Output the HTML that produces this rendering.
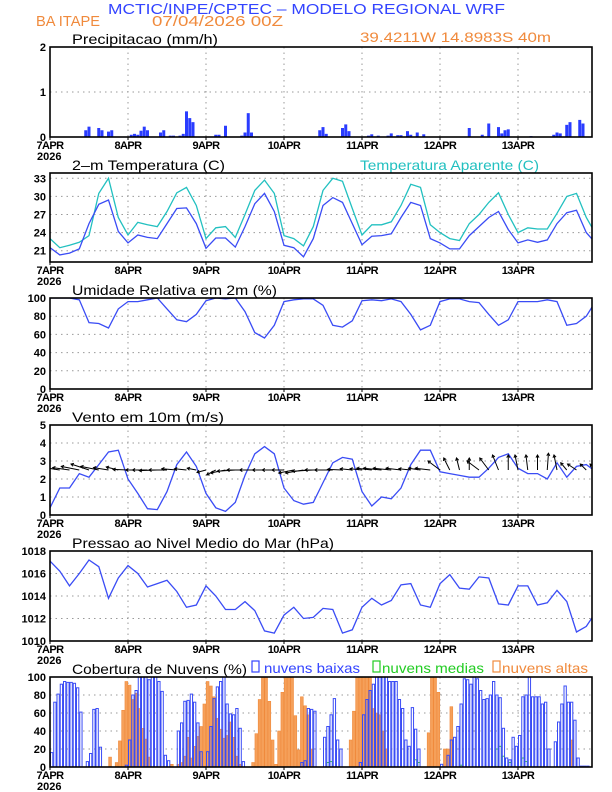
<!DOCTYPE html>
<html><head><meta charset="utf-8"><style>
body{margin:0;background:#fff}
svg{display:block}
text{font-family:"Liberation Sans",sans-serif}
.tk{font-size:11px;font-weight:bold;fill:#000}
.tt{font-size:14px;fill:#000}
</style></head><body>
<svg id="c" width="612" height="792" viewBox="0 0 612 792">
<text x="108" y="14" font-size="15" fill="#3344ff" textLength="397" lengthAdjust="spacingAndGlyphs">MCTIC/INPE/CPTEC – MODELO REGIONAL WRF</text>
<text x="36" y="26" font-size="15" fill="#f08a3c" textLength="64" lengthAdjust="spacingAndGlyphs">BA ITAPE</text>
<text x="152" y="26" font-size="15" fill="#f08a3c" textLength="131" lengthAdjust="spacingAndGlyphs">07/04/2026 00Z</text>
<text x="360" y="42" font-size="14" fill="#f08a3c" textLength="191" lengthAdjust="spacingAndGlyphs">39.4211W 14.8983S 40m</text>
<text x="360" y="170" font-size="14" fill="#22c0c0" textLength="179" lengthAdjust="spacingAndGlyphs">Temperatura Aparente (C)</text>
</svg>
<script>
const hours3 = [];for(let i=0;i<57;i++)hours3.push(i*3);
const precipHours=[11,12,15,16,18,19,25,26,27,28,29,30,34,35,37,38,40,41,42,43,44,51,52,54,59,60,61,62,83,84,85,90,91,92,98,99,101,104,105,107,108,110,111,113,115,129,133,135,138,139,140,141,148,155,156,157,159,160,163,164];
const precipVals=[0.15,0.23,0.2,0.15,0.12,0.15,0.05,0.07,0.05,0.14,0.23,0.15,0.1,0.15,0.03,0.03,0.03,0.07,0.57,0.42,0.33,0.05,0.05,0.25,0.03,0.1,0.53,0.1,0.15,0.22,0.07,0.2,0.28,0.13,0.03,0.06,0.03,0.03,0.08,0.04,0.04,0.13,0.05,0.1,0.06,0.2,0.05,0.3,0.22,0.08,0.15,0.17,0.02,0.05,0.1,0.08,0.27,0.33,0.38,0.3];
const temp=[21.5,20.3,20.6,21.3,25.5,28.7,29.4,24.2,22.3,23.6,23.2,23.0,25.5,28.0,28.1,25.5,21.4,23.1,23.1,21.6,25.0,28.8,30.5,27.5,21.9,21.5,20.0,23.0,28.5,29.8,29.0,25.5,22.0,23.4,23.5,23.8,26.5,29.0,28.5,23.0,22.3,21.3,21.3,23.5,25.0,26.5,27.5,24.5,22.3,22.8,22.4,22.8,25.5,27.3,27.7,24.0,22.2];
const apparent=[23,21.5,21.9,22.4,23.5,30.5,33,26.5,23.6,25.7,25.3,25.0,27.5,30.6,31.5,28.5,23.0,24.8,25.0,23.2,27,31,32.7,30.5,23.5,23.0,21.8,25,31,33,32.5,28,23.6,25.3,25.3,25.8,28.5,32,31.5,25.3,24,23,22.7,25.5,27.0,29,30.6,27,24,24.8,24.6,24.6,27.2,30,30.5,26.5,23.7];
const rh=[100,100,100,98,73,72,67,88,96,96,98,100,88,76,74,82,97,100,99,100,85,62,56,70,96,98,99,99,92,70,68,75,97,98,97,99,96,82,65,70,96,99,99,96,95,82,70,76,96,96,96,98,96,70,72,80,97];
const windSpd=[0.4,1.5,1.5,2.3,2.1,2.8,3.5,3.6,2.0,1.2,0.35,0.3,1.3,2.8,3.5,2.7,1.2,0.4,0.2,0.7,2.2,3.4,3.8,3.4,1.5,0.8,0.6,0.7,1.8,2.9,3.2,3.1,1.3,0.5,1.0,0.9,1.5,2.8,3.6,3.6,2.4,2.3,2.2,2.1,2.1,2.6,3.2,3.4,2.6,2.3,2.3,2.0,2.9,2.1,2.7,2.8,2.4];
const windU=[-2.5,-2.5,-2.8,-3,-3,-3,-2.5,-2,-2.5,-2,-2.5,-3,-3,-2.5,-2,-1.5,-1.5,-1.5,-2.5,-3,-3,-2.5,-2,-2,-2,-2.5,-3,-3.5,-3,-3,-2.5,-2,-2,-2.5,-3,-3,-2.5,-2,-2,-2.5,-2,-1,-0.5,0,-2,-1.5,-1,0,-0.5,-0.3,0,0.2,-0.5,-1,-1.5,-1,-1];
const windV=[0.3,0.4,0.4,0.6,1.0,0.6,0.4,0.5,0.1,0,0,-0.1,0,0.2,0.2,0.3,-0.4,-0.8,-0.5,-0.2,0,0,0,0,0,-0.5,-0.5,-0.2,0,0,0.1,0.2,0.2,0.3,0.3,0.3,0.3,0.2,0.3,0.3,1.5,2,2,2,1.5,2,2.5,2.5,2.5,2.5,2.5,2.8,2.5,1.2,1,1,1];
const pressure=[1017.1,1016.2,1014.9,1016.0,1017.2,1016.6,1013.8,1015.6,1016.7,1016.0,1014.8,1015.1,1015.4,1014.4,1013.0,1013.2,1014.9,1014.0,1012.8,1012.8,1013.5,1012.7,1010.9,1010.7,1012.3,1013.0,1012.0,1012.1,1012.9,1012.8,1010.7,1011.0,1013.0,1013.8,1013.2,1013.6,1015.0,1015.1,1013.2,1013.0,1015.1,1015.9,1014.7,1014.6,1015.7,1015.6,1013.3,1013.2,1014.9,1014.9,1013.2,1013.4,1014.5,1013.5,1010.8,1011.3,1012.6];
const cloudLow=[16,72,81,92,95,94,94,93,88,61,0,6,15,64,65,22,0,0,0,0,0,0,0,2,30,80,85,100,100,100,97,100,100,95,84,13,7,0,0,40,49,73,74,81,72,49,17,0,17,45,76,89,95,100,70,59,58,65,43,6,0,0,0,0,0,0,0,0,0,0,0,0,0,0,0,0,0,5,7,65,64,62,0,0,33,45,58,76,30,20,0,0,0,0,0,5,58,75,85,92,100,100,100,100,95,95,95,75,65,30,23,66,42,20,0,0,0,0,0,0,3,0,13,30,33,45,70,98,97,92,100,98,85,75,76,80,95,80,77,43,10,8,33,23,35,78,80,100,78,78,78,70,72,20,0,28,50,70,90,72,72,52,10,1,1,1,0,0];
const cloudHigh=[0,0,0,0,0,0,0,0,0,0,0,0,0,0,0,0,0,0,11,0,5,29,63,95,91,75,82,65,43,31,11,0,0,0,0,0,0,3,0,3,5,12,33,10,23,34,45,70,95,90,78,54,42,32,35,50,33,12,3,0,0,0,5,37,75,100,100,73,30,3,40,83,100,100,100,57,19,78,68,58,20,0,0,0,0,0,0,0,0,0,0,0,30,62,100,100,100,100,100,65,60,58,40,20,0,0,0,0,0,0,0,0,0,0,0,0,38,100,100,83,0,20,20,67,0,0,0,0,0,0,0,0,0,0,0,0,0,0,0,0,0,0,0,0,0,0,0,0,0,0,0,0,0,0,0,0,0,0,0,0,30,0,0,0];
const cloudMedHours=[85,86,112,113,126,137,138,139,141,145,146];
const cloudMedVals=[5,6,8,5,2,20,23,12,5,10,6];
const dayLabels=["7APR","8APR","9APR","10APR","11APR","12APR","13APR"];

const NS="http://www.w3.org/2000/svg";
const svg=document.getElementById('c');
const X0=50,X1=592,PXH=3.25;
function xOf(h){return X0+h*PXH;}
function mk(tag,attrs,parent){const e=document.createElementNS(NS,tag);for(const k in attrs)e.setAttribute(k,attrs[k]);(parent||svg).appendChild(e);return e;}
function yScale(p){return v=>p.bottom-(v-p.min)/(p.max-p.min)*(p.bottom-p.top);}

const panels=[
 {id:'precip',top:47,bottom:137,min:0,max:2,ticks:[0,1,2],title:'Precipitacao (mm/h)',tw:146},
 {id:'temp',top:173,bottom:262,min:19.13,max:33.88,ticks:[21,24,27,30,33],title:'2–m Temperatura (C)',tw:153},
 {id:'rh',top:298,bottom:389,min:0,max:100,ticks:[0,20,40,60,80,100],title:'Umidade Relativa em 2m (%)',tw:205},
 {id:'wind',top:425,bottom:515,min:0,max:5,ticks:[0,1,2,3,4,5],title:'Vento em 10m (m/s)',tw:152},
 {id:'pres',top:551,bottom:641,min:1010,max:1018,ticks:[1010,1012,1014,1016,1018],title:'Pressao ao Nivel Medio do Mar (hPa)',tw:262},
 {id:'cloud',top:677,bottom:767,min:0,max:100,ticks:[0,20,40,60,80,100],title:'Cobertura de Nuvens (%)',tw:175}
];
const clipDefs=mk('defs',{});
panels.forEach(p=>{
 p.y=yScale(p);
 const g=mk('g',{});
 
 
 p.g=g;
 const cp=mk('clipPath',{id:'clip-'+p.id},clipDefs);
 mk('rect',{x:X0,y:p.top,width:X1-X0,height:p.bottom-p.top},cp);
 p.ticks.forEach(t=>{
  const yy=p.y(t);
  if(yy>p.top+1&&yy<p.bottom-1){const l=mk('line',{x1:X0,x2:X1,y1:yy,y2:yy,stroke:'#999','stroke-width':1,'stroke-dasharray':'1.5,4'},g);
  }
  const tx=mk('text',{x:X0-4,y:yy+4,'text-anchor':'end',class:'tk'},g);tx.textContent=t;
  
 });
 for(let d=1;d<7;d++){const xx=xOf(d*24);
  const l=mk('line',{x1:xx,x2:xx,y1:p.top,y2:p.bottom,stroke:'#999','stroke-width':1,'stroke-dasharray':'1.5,4'},g);
  }
 dayLabels.forEach((lab,d)=>{const xx=xOf(d*24);
  mk('line',{x1:xx,x2:xx,y1:p.bottom,y2:p.bottom+3,stroke:'#000'},g);
  const tx=mk('text',{x:xx,y:p.bottom+12,'text-anchor':'middle',class:'tk','letter-spacing':'-0.6'},g);tx.textContent=lab;
  });
 const yr=mk('text',{x:37,y:p.bottom+23,class:'tk'},g);yr.textContent='2026';
 
 const ti=mk('text',{x:72,y:p.top-3,class:'tt',textLength:p.tw,lengthAdjust:'spacingAndGlyphs'},g);ti.textContent=p.title;
 
 p.marks=mk('g',{'clip-path':'url(#clip-'+p.id+')'},g);
});
function frame(p){const r=mk('rect',{x:X0,y:p.top,width:X1-X0,height:p.bottom-p.top,fill:'none',stroke:'#000','stroke-width':1.6},p.g);
 }
function line(p,xs,vals,color,name){
 const d=vals.map((v,i)=>(i?'L':'M')+xOf(xs[i]).toFixed(1)+','+p.y(v).toFixed(1)).join('');
 const e=mk('path',{d:d,fill:'none',stroke:color,'stroke-width':1.3},p.marks);
 
}
const BLUE='#3a4cf5';
const P=panels;
precipHours.forEach((h,i)=>{const yy=P[0].y(precipVals[i]);
 const b=mk('rect',{x:xOf(h)-1.5,y:yy,width:3,height:P[0].bottom-yy,fill:'#2a3cff'},P[0].marks);
 });
line(P[1],hours3,apparent,'#22c0c0','apparent-temp-line');
line(P[1],hours3,temp,BLUE,'temp-line');
line(P[2],hours3,rh,BLUE,'rh-line');
line(P[3],hours3,windSpd,BLUE,'wind-speed-line');
const K=6;
hours3.forEach((h,i)=>{const x0=xOf(h),y0=P[3].y(2.5);
 const x1=x0+windU[i]*K,y1=y0-windV[i]*K;
 const ang=Math.atan2(y1-y0,x1-x0);
 const g=mk('g',{stroke:'#000','stroke-width':1,fill:'none'},P[3].marks);
 
 mk('line',{x1:x0,y1:y0,x2:x1,y2:y1},g);
 const a1=ang+2.6,a2=ang-2.6;
 mk('path',{d:`M${x1+3*Math.cos(a1)},${y1+3*Math.sin(a1)}L${x1},${y1}L${x1+3*Math.cos(a2)},${y1+3*Math.sin(a2)}`},g);
});
line(P[4],hours3,pressure,BLUE,'pressure-line');
const C=P[5];
cloudHigh.forEach((v,h)=>{if(v<=0)return;const yy=C.y(v);
 const b=mk('rect',{x:xOf(h)+0.2,y:yy,width:2.8,height:C.bottom-yy,fill:'#f5a05a',stroke:'#f08a3c','stroke-width':0.6},C.marks);
 });
cloudMedHours.forEach((h,i)=>{const yy=C.y(cloudMedVals[i]);
 const b=mk('rect',{x:xOf(h)+0.5,y:yy,width:2.3,height:C.bottom-yy,fill:'none',stroke:'#22cc22','stroke-width':0.9},C.marks);
 });
cloudLow.forEach((v,h)=>{const yy=C.y(v);
 const b=mk('rect',{x:xOf(h)+0.5,y:yy,width:2.3,height:C.bottom-yy,fill:'none',stroke:'#3a4cf5','stroke-width':1},C.marks);
 });
panels.forEach(frame);
[['nuvens baixas','#3344ff',252,264,96],['nuvens medias','#22cc22',373,382,102],['nuvens altas','#f08a3c',493,502,86]].forEach(l=>{
 const g=mk('g',{});
 mk('rect',{x:l[2],y:661,width:7,height:11,fill:'none',stroke:l[1],'stroke-width':1.2},g);
 const t=mk('text',{x:l[3],y:673,'font-size':14,fill:l[1],textLength:l[4],lengthAdjust:'spacingAndGlyphs'},g);t.textContent=l[0];
});
</script>
</body></html>
